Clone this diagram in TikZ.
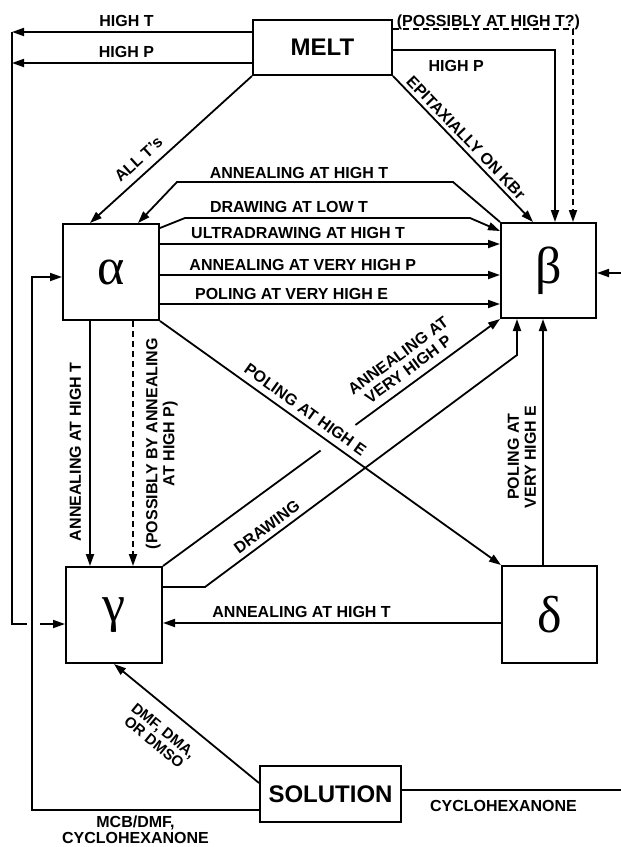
\documentclass[tikz,border=0pt]{standalone}
\usepackage{fontspec}
\setmainfont{Liberation Sans}
\newfontfamily\grk{Liberation Serif}
\usetikzlibrary{arrows.meta,calc}
\begin{document}
\begin{tikzpicture}[x=1pt,y=-1pt,
 box/.style={draw,line width=2pt,inner sep=0pt,font=\grk\fontsize{52}{52}\selectfont},
 wbox/.style={box,font=\bfseries\fontsize{24}{24}\selectfont},
 lbl/.style={font=\bfseries\fontsize{16}{17}\selectfont,align=center},
 conn/.style={line width=1.8pt},
 arr/.style={conn,-{Triangle[length=12pt,width=8pt]}},
 dsh/.style={dash pattern=on 6pt off 4pt},
 hab/.style={lbl,anchor=base,yshift=#1}]
\useasboundingbox (0,0) rectangle (621,847);
\clip (0,0) rectangle (621,847);
% nodes
\node[wbox,minimum width=139pt,minimum height=55pt] (melt) at (322.5,47.5) {MELT};
\node[box,minimum width=96pt,minimum height=96pt] (alpha) at (111,272) {α};
\node[box,minimum width=95pt,minimum height=95pt] (beta) at (548.5,270.5) {β};
\node[box,minimum width=96pt,minimum height=96pt] (gamma) at (114,615) {γ};
\node[box,minimum width=95pt,minimum height=97pt] (delta) at (549.5,614.5) {δ};
\node[wbox,minimum width=141pt,minimum height=56pt] (sol) at (330.5,794) {SOLUTION};
% coordinates
\coordinate (ht) at (12,32);
\coordinate (hp) at (12,63);
\coordinate (gl) at (12,624);
\coordinate (gl1) at (27,624);
\coordinate (gl2) at (40,624);
\coordinate (dd) at (573,29);
\coordinate (hpr) at (555,50);
\coordinate (ep) at (533,0);
\coordinate (at) at (90,0);
\coordinate (ah1) at (453,182);
\coordinate (ah2) at (177,182);
\coordinate (ah3) at (138,0);
\coordinate (dl0) at (0,228);
\coordinate (dl1) at (185,218);
\coordinate (dl2) at (470,218);
\coordinate (dl3) at (0,231);
\coordinate (ud) at (0,244);
\coordinate (av) at (0,275);
\coordinate (pv) at (0,304);
\coordinate (ag) at (90,0);
\coordinate (pg) at (133,0);
\coordinate (dr0) at (0,587);
\coordinate (dr1) at (205,587);
\coordinate (dr2) at (517,355);
\coordinate (pb) at (543,0);
\coordinate (dg) at (0,623);
\coordinate (s0) at (0,783);
\coordinate (sa) at (32,810);
\coordinate (sb) at (630,790);
\coordinate (ay) at (0,277);
\coordinate (by) at (0,273);
% melt connectors
\draw[arr] (melt.west |- ht) -- node[hab=5.5pt,pos=0.523]{HIGH T} (ht);
\draw[arr] (melt.west |- hp) -- node[hab=5.5pt,pos=0.523]{HIGH P} (hp);
\draw[conn] (ht) -- (gl) -- (gl1);
\draw[arr] (gl2) -- (gl2 -| gamma.west);
\draw[arr,dsh] (dd -| melt.east) -- node[hab=2.5pt,pos=0.53]{(POSSIBLY AT HIGH T?)} (dd) -- (beta.north -| dd);
\draw[arr] (hpr -| melt.east) -- node[hab=-21.7pt,pos=0.39]{HIGH P} (hpr) -- (beta.north -| hpr);
\draw[arr] (melt.south east) -- node[lbl,sloped,above,inner sep=3.5pt,pos=0.47]{EPITAXIALLY ON KBr} (beta.north -| ep);
\draw[arr] (melt.south west) -- node[lbl,sloped,above,inner sep=8pt,pos=0.64]{ALL T's} (alpha.north -| at);
% alpha <-> beta
\draw[arr] (beta.north west) -- (ah1) -- node[hab=4pt,pos=0.558]{ANNEALING AT HIGH T} (ah2) -- (alpha.north -| ah3);
\draw[arr] (alpha.east |- dl0) -- (dl1) -- node[hab=5.3pt,pos=0.365]{DRAWING AT LOW T} (dl2) -- (beta.west |- dl3);
\draw[arr] (alpha.east |- ud) -- node[hab=5.7pt,pos=0.406]{ULTRADRAWING AT HIGH T} (beta.west |- ud);
\draw[arr] (alpha.east |- av) -- node[hab=4.5pt,pos=0.42]{ANNEALING AT VERY HIGH P} (beta.west |- av);
\draw[arr] (alpha.east |- pv) -- node[hab=5pt,pos=0.387]{POLING AT VERY HIGH E} (beta.west |- pv);
% alpha -> gamma
\draw[arr] (alpha.south -| ag) -- node[lbl,rotate=90,anchor=south,inner sep=8pt,pos=0.534]{ANNEALING AT HIGH T} (gamma.north -| ag);
\draw[arr,dsh] (alpha.south -| pg) -- node[lbl,rotate=90,anchor=north,inner sep=12pt,pos=0.5]{(POSSIBLY BY ANNEALING\\AT HIGH P)} (gamma.north -| pg);
% alpha -> delta
\draw[arr] (alpha.south east) -- node[lbl,sloped,above,inner sep=6pt,pos=0.405]{POLING AT HIGH E} (delta.north west);
% gamma -> beta
\coordinate (ga) at ($(gamma.north east)!0.4675!(beta.south west)$);
\coordinate (gb) at ($(gamma.north east)!0.571!(beta.south west)$);
\draw[conn] (gamma.north east) -- (ga);
\draw[arr] (gb) -- node[lbl,sloped,above,inner sep=7pt,pos=0.42]{ANNEALING AT\\VERY HIGH P} (beta.south west);
\draw[arr] (gamma.east |- dr0) -- (dr1) -- node[lbl,sloped,above,inner sep=5pt,pos=0.22]{DRAWING} (dr2) -- (beta.south -| dr2);
% delta
\draw[arr] (delta.north -| pb) -- node[lbl,rotate=90,anchor=south,inner sep=6pt,pos=0.44]{POLING AT\\VERY HIGH E} (beta.south -| pb);
\draw[arr] (delta.west |- dg) -- node[hab=6pt,pos=0.59]{ANNEALING AT HIGH T} (gamma.east |- dg);
% solution
\draw[arr] (sol.west |- s0) -- node[lbl,font=\bfseries\fontsize{15}{15}\selectfont,sloped,below,inner sep=14pt,pos=0.57]{DMF, DMA,\\OR DMSO} (gamma.south);
\draw[arr] (sol.west |- sa) -- node[lbl,font=\bfseries\fontsize{16}{16}\selectfont,below,inner sep=5pt,pos=0.544]{MCB/DMF,\\CYCLOHEXANONE} (sa) |- (alpha.west |- ay);
\draw[arr] (sol.east |- sb) -- node[hab=-21.7pt,pos=0.445]{CYCLOHEXANONE} (sb) |- (beta.east |- by);
\end{tikzpicture}
\end{document}
